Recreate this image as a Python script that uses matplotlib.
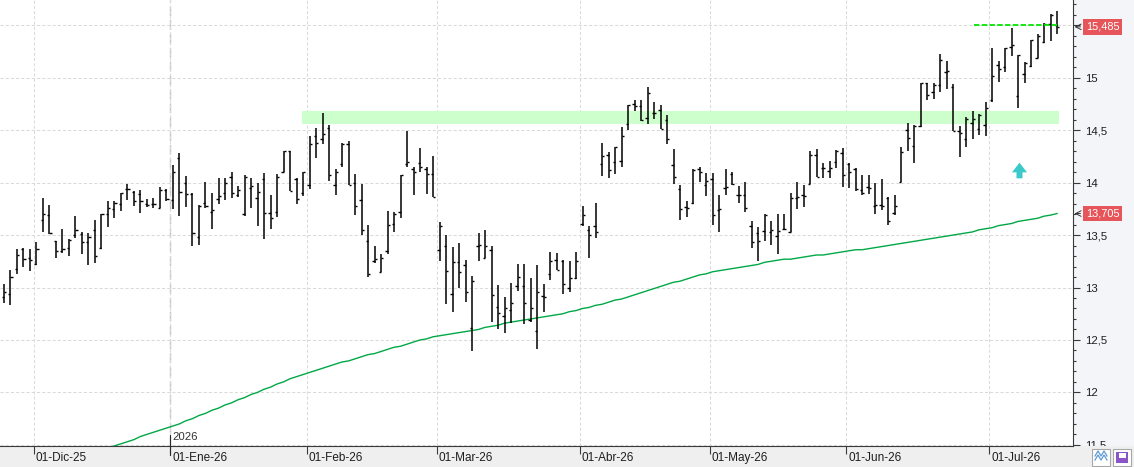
import numpy as np
import pandas as pd
import matplotlib
matplotlib.use("Agg")
import matplotlib.pyplot as plt
import matplotlib.transforms as mtransforms
from matplotlib.lines import Line2D
from matplotlib.patches import Rectangle
from matplotlib.path import Path
from matplotlib.ticker import FixedLocator, MultipleLocator, FuncFormatter

plt.rcParams["font.family"] = ["Liberation Sans", "DejaVu Sans"]

W, H, DPI = 1134, 467, 100

# trading sessions (Spanish market holidays removed)
holidays = ["2025-12-25", "2025-12-26", "2026-01-01", "2026-04-03", "2026-04-06"]
dates = pd.bdate_range("2025-11-24", "2026-07-15")
dates = dates[~dates.isin(pd.to_datetime(holidays))]

opens = [
    12.91, 12.94, 13.18, 13.37, 13.28, 13.22, 13.64, 13.69, 13.44, 13.35,
    13.38, 13.50, 13.51, 13.43, 13.55, 13.38, 13.70, 13.75, 13.80, 13.94,
    13.91, 13.89, 13.80, 13.80, 13.76, 13.93, 13.83, 14.23, 14.00, 13.89,
    13.48, 13.81, 13.72, 13.84, 13.90, 14.05, 13.88, 13.70, 13.95, 13.85,
    14.03, 13.71, 13.72, 14.10, 14.30, 14.03, 13.90, 13.98, 14.44, 14.42,
    14.52, 13.98, 14.18, 14.37, 14.00, 13.83, 13.44, 13.25, 13.15, 13.35,
    13.61, 13.72, 14.18, 14.13, 14.19, 14.13, 14.08, 13.36, 13.40, 12.94,
    13.24, 13.21, 12.61, 13.40, 13.28, 13.36, 12.81, 12.73, 12.79, 13.01,
    13.01, 12.69, 12.59, 12.92, 13.13, 13.26, 13.25, 13.00, 13.09, 13.61,
    13.55, 13.59, 14.18, 14.26, 14.20, 14.21, 14.56, 14.75, 14.73, 14.62,
    14.66, 14.69, 14.60, 14.17, 13.94, 13.77, 13.81, 14.13, 13.98, 14.03,
    13.74, 13.95, 14.08, 13.88, 13.88, 13.59, 13.52, 13.54, 13.53, 13.49,
    13.56, 13.53, 13.85, 13.88, 13.99, 14.26, 14.14, 14.11, 14.20, 14.28,
    14.18, 14.13, 13.93, 13.96, 13.78, 13.79, 13.85, 13.71, 14.01, 14.50,
    14.35, 14.54, 14.95, 14.86, 14.93, 15.05, 14.91, 14.49, 14.42, 14.57,
    14.51, 14.55, 14.79, 15.12, 15.10, 15.29, 14.83, 15.04, 15.11, 15.19,
    15.34, 15.51, 15.50,
]
highs = [
    13.03, 13.17, 13.37, 13.38, 13.37, 13.43, 13.85, 13.79, 13.44, 13.56,
    13.46, 13.68, 13.53, 13.52, 13.64, 13.70, 13.82, 13.82, 13.90, 13.99,
    13.92, 13.93, 13.84, 13.85, 13.96, 13.94, 14.17, 14.28, 14.06, 13.90,
    13.79, 14.01, 13.90, 14.04, 14.04, 14.10, 13.97, 14.07, 14.04, 14.00,
    14.09, 13.88, 14.08, 14.30, 14.30, 14.04, 14.10, 14.44, 14.52, 14.66,
    14.55, 14.13, 14.38, 14.40, 14.08, 13.99, 13.60, 13.40, 13.32, 13.73,
    13.72, 14.07, 14.49, 14.15, 14.33, 14.15, 14.25, 13.62, 13.50, 13.39,
    13.42, 13.26, 13.11, 13.52, 13.55, 13.40, 13.02, 12.91, 13.04, 13.22,
    13.22, 13.09, 13.21, 13.03, 13.34, 13.33, 13.26, 13.25, 13.34, 13.78,
    13.59, 13.81, 14.38, 14.29, 14.34, 14.53, 14.74, 14.79, 14.79, 14.91,
    14.77, 14.74, 14.64, 14.32, 13.98, 13.82, 14.13, 14.15, 14.09, 14.09,
    13.88, 14.13, 14.10, 13.97, 14.01, 13.63, 13.58, 13.70, 13.63, 13.70,
    13.70, 13.90, 14.01, 13.98, 14.30, 14.32, 14.19, 14.21, 14.31, 14.33,
    14.19, 14.14, 14.07, 14.07, 14.00, 14.03, 13.86, 13.88, 14.34, 14.57,
    14.55, 14.95, 14.95, 14.95, 15.23, 15.16, 14.94, 14.54, 14.63, 14.68,
    14.65, 14.77, 15.28, 15.16, 15.28, 15.47, 15.22, 15.15, 15.36, 15.42,
    15.52, 15.61, 15.64,
]
lows = [
    12.85, 12.83, 13.13, 13.20, 13.16, 13.21, 13.53, 13.51, 13.28, 13.33,
    13.30, 13.47, 13.32, 13.21, 13.23, 13.37, 13.58, 13.66, 13.73, 13.83,
    13.78, 13.71, 13.77, 13.76, 13.76, 13.82, 13.75, 13.68, 13.77, 13.40,
    13.41, 13.76, 13.56, 13.80, 13.83, 13.85, 13.86, 13.68, 13.76, 13.59,
    13.46, 13.56, 13.67, 14.10, 13.92, 13.80, 13.87, 13.94, 14.23, 14.37,
    14.02, 13.88, 14.15, 13.98, 13.69, 13.50, 13.10, 13.23, 13.15, 13.32,
    13.53, 13.66, 14.15, 13.88, 14.10, 13.89, 13.86, 13.25, 12.84, 12.77,
    13.00, 12.86, 12.39, 13.25, 13.28, 12.67, 12.60, 12.57, 12.66, 12.97,
    12.65, 12.67, 12.41, 12.77, 13.07, 13.17, 12.94, 12.96, 13.08, 13.59,
    13.28, 13.47, 14.06, 14.04, 14.08, 14.15, 14.50, 14.68, 14.59, 14.56,
    14.61, 14.51, 14.37, 13.99, 13.64, 13.67, 13.80, 14.01, 13.87, 13.60,
    13.53, 13.88, 13.98, 13.81, 13.72, 13.38, 13.25, 13.44, 13.41, 13.32,
    13.55, 13.53, 13.75, 13.77, 13.99, 14.05, 14.04, 14.04, 14.14, 13.96,
    13.95, 13.92, 13.88, 13.89, 13.70, 13.74, 13.60, 13.69, 14.01, 14.30,
    14.19, 14.53, 14.79, 14.80, 14.86, 14.89, 14.49, 14.24, 14.34, 14.42,
    14.45, 14.44, 14.77, 14.96, 15.05, 15.21, 14.71, 14.95, 15.10, 15.19,
    15.33, 15.35, 15.42,
]
closes = [
    12.96, 13.10, 13.31, 13.27, 13.26, 13.37, 13.70, 13.52, 13.35, 13.37,
    13.45, 13.55, 13.43, 13.48, 13.30, 13.70, 13.76, 13.81, 13.90, 13.94,
    13.82, 13.82, 13.79, 13.80, 13.93, 13.84, 14.10, 13.91, 13.89, 13.52,
    13.78, 13.78, 13.74, 13.87, 14.00, 13.90, 13.93, 14.05, 13.97, 13.91,
    13.71, 13.66, 14.05, 14.30, 13.92, 13.84, 14.10, 14.37, 14.38, 14.46,
    14.07, 14.10, 14.37, 13.98, 13.78, 13.55, 13.13, 13.27, 13.28, 13.60,
    13.70, 14.07, 14.20, 14.10, 14.15, 14.08, 13.86, 13.59, 13.16, 13.24,
    13.15, 12.96, 13.06, 13.41, 13.40, 12.93, 12.76, 12.80, 12.85, 13.10,
    12.85, 12.80, 12.96, 12.91, 13.25, 13.17, 13.03, 13.09, 13.25, 13.69,
    13.50, 13.53, 14.25, 14.12, 14.34, 14.44, 14.74, 14.73, 14.60, 14.85,
    14.66, 14.51, 14.42, 14.05, 13.75, 13.76, 14.12, 14.10, 14.02, 13.69,
    13.75, 13.96, 13.99, 13.88, 13.76, 13.43, 13.44, 13.69, 13.55, 13.54,
    13.56, 13.85, 13.86, 13.87, 14.26, 14.05, 14.14, 14.14, 14.30, 14.07,
    14.10, 13.94, 13.90, 13.95, 13.79, 13.78, 13.63, 13.78, 14.29, 14.43,
    14.54, 14.95, 14.84, 14.93, 15.17, 15.06, 14.49, 14.47, 14.61, 14.61,
    14.64, 14.71, 15.02, 15.08, 15.28, 15.31, 15.22, 15.14, 15.36, 15.40,
    15.51, 15.60, 15.485,
]

# 200-session moving average, visible from mid December
ma_start = "2025-12-12"
ma200 = [
    11.43, 11.45, 11.47, 11.49, 11.51, 11.53, 11.55, 11.58, 11.60, 11.62,
    11.64, 11.66, 11.68, 11.70, 11.73, 11.75, 11.78, 11.80, 11.83, 11.85,
    11.88, 11.90, 11.93, 11.95, 11.98, 12.00, 12.03, 12.05, 12.08, 12.10,
    12.13, 12.15, 12.17, 12.19, 12.21, 12.23, 12.25, 12.27, 12.29, 12.30,
    12.32, 12.34, 12.36, 12.37, 12.39, 12.41, 12.43, 12.44, 12.46, 12.48,
    12.50, 12.51, 12.53, 12.54, 12.55, 12.56, 12.57, 12.58, 12.59, 12.60,
    12.62, 12.63, 12.64, 12.66, 12.67, 12.68, 12.69, 12.70, 12.71, 12.72,
    12.73, 12.74, 12.75, 12.77, 12.78, 12.80, 12.81, 12.83, 12.84, 12.86,
    12.88, 12.89, 12.91, 12.93, 12.95, 12.97, 12.99, 13.01, 13.03, 13.05,
    13.06, 13.08, 13.10, 13.12, 13.13, 13.15, 13.16, 13.17, 13.18, 13.19,
    13.20, 13.21, 13.22, 13.24, 13.25, 13.26, 13.27, 13.27, 13.28, 13.29,
    13.30, 13.31, 13.31, 13.32, 13.33, 13.34, 13.35, 13.36, 13.36, 13.37,
    13.38, 13.39, 13.40, 13.41, 13.42, 13.43, 13.44, 13.45, 13.46, 13.47,
    13.48, 13.49, 13.50, 13.51, 13.52, 13.53, 13.55, 13.56, 13.57, 13.59,
    13.60, 13.61, 13.63, 13.64, 13.65, 13.66, 13.68, 13.69, 13.705,
]

# resistance zone and target line
band_low, band_high = 14.56, 14.68
band_start = "2026-01-30"
target = 15.50
target_start = "2026-06-26"
arrow_date = "2026-07-07"
arrow_level = 14.12

meses = {1: "Ene", 2: "Feb", 3: "Mar", 4: "Abr", 5: "May", 6: "Jun",
         7: "Jul", 8: "Ago", 9: "Sep", 10: "Oct", 11: "Nov", 12: "Dic"}


def fx(px):
    return px / W


def fy(py):
    return 1 - py / H


def idx(day):
    return dates.get_loc(pd.Timestamp(day))


x = np.arange(len(dates))

fig = plt.figure(figsize=(W / DPI, H / DPI), dpi=DPI)
fig.patch.set_facecolor("#efefef")
fig.add_artist(Rectangle((fx(1073), fy(446)), 1 - fx(1073), 446 / H,
                         transform=fig.transFigure, facecolor="#f4f5f9",
                         edgecolor="none", zorder=-1))

ax = fig.add_axes([0, fy(446), fx(1073), 446 / H])
ax.set_facecolor("white")
ax.set_xlim(-0.615, 164.46)
ax.set_ylim(11.489, 15.741)

# month ticks
month_first = [i for i in range(1, len(dates)) if dates[i].month != dates[i - 1].month]
tick_pos = [i - 0.4 for i in month_first]
tick_lab = [f"01-{meses[dates[i].month]}-{dates[i].year % 100:02d}" for i in month_first]
ax.xaxis.set_major_locator(FixedLocator(tick_pos))
ax.set_xticklabels(tick_lab)
ax.tick_params(axis="x", direction="out", length=5.5, width=0.8, color="#3a3a3a",
               labelsize=8.5, labelcolor="#1e1e1e", pad=-1.1)
shift = mtransforms.ScaledTranslation(0.017, 0, fig.dpi_scale_trans)
for lab in ax.get_xticklabels():
    lab.set_horizontalalignment("left")
    lab.set_transform(lab.get_transform() + shift)

# price axis on the right
ax.yaxis.tick_right()
ax.yaxis.set_major_locator(FixedLocator(np.arange(11.5, 15.51, 0.5)))
ax.yaxis.set_minor_locator(MultipleLocator(0.1))
ax.yaxis.set_major_formatter(FuncFormatter(
    lambda v, p: "" if v > 15.4 else f"{v:g}".replace(".", ",")))
ax.tick_params(axis="y", which="major", length=5, width=0.8, color="#3a3a3a",
               labelsize=8.2, labelcolor="#1e1e1e", pad=3.4)
ax.tick_params(axis="y", which="minor", length=2.4, width=0.8, color="#3a3a3a")
clip = mtransforms.TransformedBbox(mtransforms.Bbox([[0, fy(446)], [1, 1]]), fig.transFigure)
for t in ax.yaxis.get_major_ticks():
    t.label2.set_clip_box(clip)
    t.label2.set_clip_on(True)

for s in ("top", "left"):
    ax.spines[s].set_visible(False)
for s in ("right", "bottom"):
    ax.spines[s].set_color("#3a3a3a")
    ax.spines[s].set_linewidth(0.8)

ax.grid(True, which="major", color="#dadada", lw=0.75, ls=(0, (3, 2)), zorder=0)
ax.set_axisbelow(True)

# year separator
jan = [p for p, i in zip(tick_pos, month_first) if dates[i].month == 1][0]
ax.axvline(jan, color="#c4c4c4", lw=1.0, ls=(0, (7, 3)), zorder=0.5)
yr = mtransforms.blended_transform_factory(ax.transData, ax.transAxes)
ax.plot([jan, jan], [-9 / 446, 11 / 446], transform=yr, color="#2a2a2a", lw=0.8,
        clip_on=False, zorder=5)
ax.text(jan + 0.35, 9 / 446, str(dates[month_first[1]].year), transform=yr,
        ha="left", va="center", fontsize=8.2, color="#333333")

# resistance band
b0 = idx(band_start) - 0.15
ax.add_patch(Rectangle((b0, band_low), x[-1] + 0.3 - b0, band_high - band_low,
                       facecolor="#ccffcc", edgecolor="none", zorder=1))

# moving average
m0 = idx(ma_start)
ax.plot(x[m0:m0 + len(ma200)], ma200, color="#00a846", lw=1.0, zorder=2)

# OHLC bars
ax.vlines(x, lows, highs, colors="black", lw=1.1, zorder=3)
ax.hlines(opens, x - 0.36, x, colors="black", lw=1.0, zorder=3)
ax.hlines(closes, x, x + 0.36, colors="black", lw=1.0, zorder=3)

# target line
ax.hlines(target, idx(target_start) + 0.2, x[-1] + 0.2, colors="#00e600", lw=1.3,
          linestyles=(0, (3, 1.3)), zorder=4)

# up arrow
verts = [(0, 7.85), (7.5, -1.85), (3, -1.85), (3, -7.85), (-3, -7.85),
         (-3, -1.85), (-7.5, -1.85), (0, 7.85)]
arrow = Path(verts, [Path.MOVETO] + [Path.LINETO] * 6 + [Path.CLOSEPOLY])
ax.plot(idx(arrow_date) + 0.2, arrow_level, marker=arrow, ms=11.3,
        color="#3cc9c9", mec="none", zorder=4, clip_on=False)

# price tags on the axis
tag = mtransforms.blended_transform_factory(fig.transFigure, ax.transData)
for v in (closes[-1], ma200[-1]):
    ax.text(fx(1102.5), v, f"{v:.3f}".replace(".", ","), transform=tag,
            ha="center", va="center", fontsize=7.9, color="white", zorder=6,
            bbox=dict(boxstyle="square,pad=0.25", fc="#e5555a", ec="none"))
    ax.annotate("", xy=(fx(1074.5), v), xytext=(fx(1080.5), v), xycoords=tag,
                textcoords=tag, annotation_clip=False,
                arrowprops=dict(arrowstyle="->", lw=0.7, color="#333333",
                                shrinkA=0, shrinkB=0))

# toolbar icons bottom right
for x0 in (1092, 1113):
    fig.add_artist(Rectangle((fx(x0), fy(466)), 18 / W, 17 / H, transform=fig.transFigure,
                             facecolor="white", edgecolor="#a8a8a8", lw=0.8, zorder=5))
for dy in (0, 4):
    zx = [1095, 1098, 1101, 1104, 1107]
    zy = [460 - dy, 455 - dy, 460 - dy, 455 - dy, 460 - dy]
    fig.add_artist(Line2D([fx(v) for v in zx], [fy(v) for v in zy],
                          transform=fig.transFigure, color="#5b9bd5", lw=0.9, zorder=6))
fig.add_artist(Rectangle((fx(1116), fy(463)), 12 / W, 11 / H, transform=fig.transFigure,
                         facecolor="#8a55c9", edgecolor="none", zorder=6))
fig.add_artist(Rectangle((fx(1118.5), fy(458)), 7 / W, 5 / H, transform=fig.transFigure,
                         facecolor="white", edgecolor="none", zorder=7))

fig.savefig("out.png", dpi=DPI)
